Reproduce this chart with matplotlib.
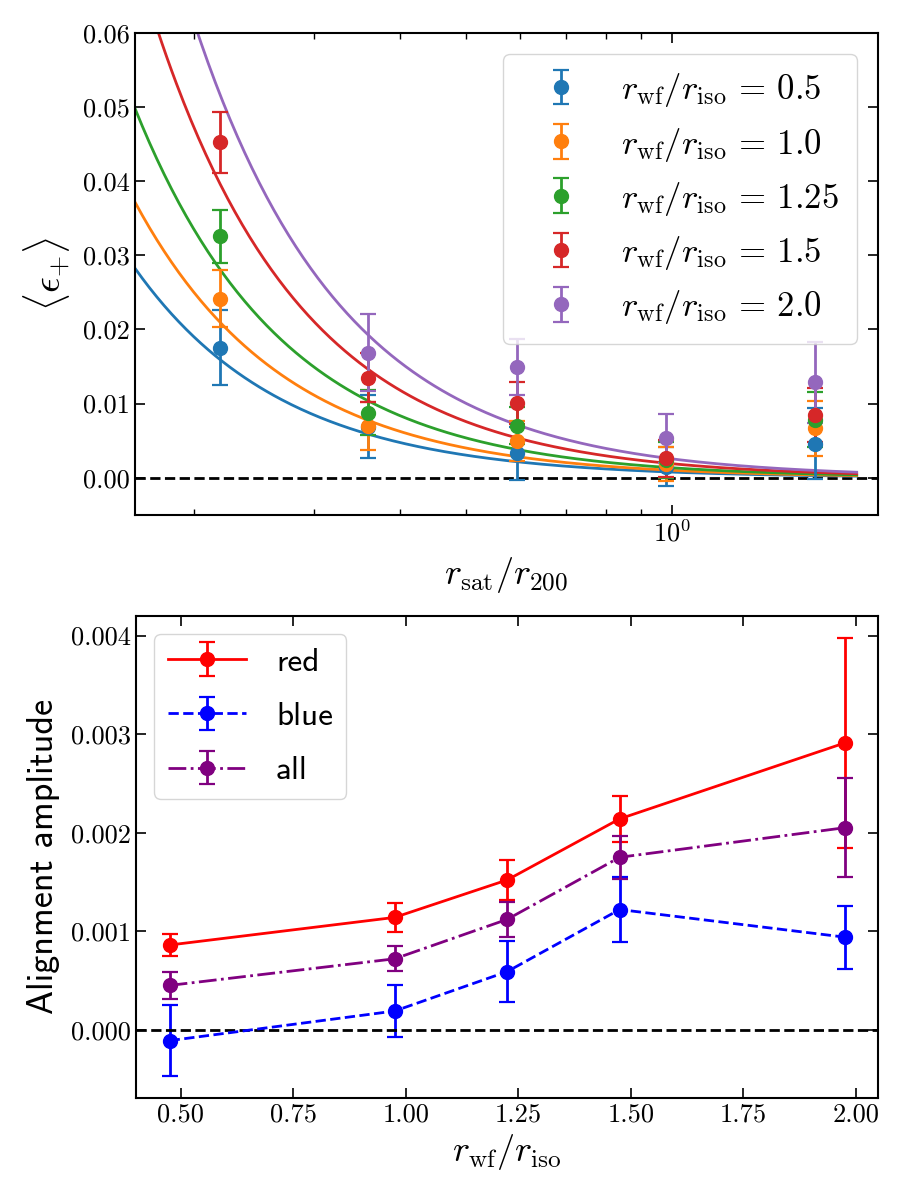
import numpy as np
import matplotlib
matplotlib.use("Agg")
import matplotlib.pyplot as plt
from matplotlib.ticker import NullFormatter

plt.rcParams['font.family'] = 'serif'
plt.rcParams['font.serif'] = ['cmr10', 'DejaVu Serif']
plt.rcParams['mathtext.fontset'] = 'cm'
plt.rcParams['axes.formatter.use_mathtext'] = True
plt.rcParams['axes.unicode_minus'] = False

#-------------------- top panel data --------------------
r_sat = [0.218, 0.359, 0.594, 0.978, 1.615]
ratios = ['0.5', '1.0', '1.25', '1.5', '2.0']
colors = ['C0', 'C1', 'C2', 'C3', 'C4']

eps_05  = [0.01756, 0.0069, 0.0033, 0.0015, 0.0046]
err_05  = [0.0051, 0.0042, 0.0036, 0.0026, 0.0048]
eps_10  = [0.02416, 0.0070, 0.0049, 0.0019, 0.00667]
err_10  = [0.0038, 0.0032, 0.0027, 0.0023, 0.0037]
eps_125 = [0.03255, 0.0088, 0.0070, 0.0024, 0.0078]
err_125 = [0.0036, 0.0030, 0.0025, 0.0024, 0.0037]
eps_15  = [0.04526, 0.01352, 0.0101, 0.0026, 0.00847]
err_15  = [0.0041, 0.0033, 0.0028, 0.0025, 0.0037]
eps_20  = [np.nan, 0.01685, 0.01495, 0.0053, 0.01288]
err_20  = [np.nan, 0.0052, 0.0038, 0.0033, 0.0055]

eps = [eps_05, eps_10, eps_125, eps_15, eps_20]
errs = [err_05, err_10, err_125, err_15, err_20]

# power-law fit parameters  <e+> = A * r^-n
fit_amp = [0.00076, 0.00100, 0.00134, 0.00189, 0.00254]
fit_slope = [2.0, 2.0, 2.0, 2.0, 1.98]

#-------------------- bottom panel data --------------------
r_wf = [0.475, 0.975, 1.225, 1.475, 1.975]
amp_red  = [0.00086, 0.00114, 0.00152, 0.00214, 0.00291]
err_red  = [0.00011, 0.00015, 0.00020, 0.00023, 0.00107]
amp_blue = [-0.00011, 0.00019, 0.00059, 0.00122, 0.00094]
err_blue = [0.00036, 0.00026, 0.00031, 0.00033, 0.00032]
amp_all  = [0.00045, 0.00072, 0.00112, 0.00175, 0.00205]
err_all  = [0.00014, 0.000125, 0.00018, 0.00022, 0.00050]

fig = plt.figure(figsize=(9, 12), dpi=100)
ax1 = fig.add_axes([0.150, 0.571, 0.825, 0.4015])
ax2 = fig.add_axes([0.151, 0.085, 0.825, 0.402])

r_fit = np.logspace(np.log10(0.16), np.log10(1.86), 300)
for i in range(5):
    ax1.errorbar(r_sat, eps[i], yerr=errs[i], fmt='o', color=colors[i],
                 ms=10, capsize=6, elinewidth=2, capthick=1.6, zorder=3,
                 label=r'$r_{\rm wf}/r_{\rm iso} \,=\, %s$' % ratios[i])
    ax1.plot(r_fit, fit_amp[i] * r_fit**(-fit_slope[i]), color=colors[i], lw=2, zorder=2)

ax1.axhline(0, color='k', ls='--', lw=2, zorder=1)
ax1.set_xscale('log')
ax1.set_xlim(0.164, 1.995)
ax1.set_ylim(-0.005, 0.06)
ax1.set_yticks([0, 0.01, 0.02, 0.03, 0.04, 0.05, 0.06])
ax1.yaxis.set_major_formatter(matplotlib.ticker.FormatStrFormatter('%.2f'))
ax1.xaxis.set_minor_formatter(NullFormatter())
ax1.set_xlabel(r'$r_{\rm sat}/r_{200}$', fontsize=26, labelpad=6)
ax1.set_ylabel(r'$\langle \epsilon_{+} \rangle$', fontsize=28, labelpad=8)
ax1.legend(loc='upper right', fontsize=25, borderpad=0.5, labelspacing=0.47,
           handlelength=2.3, handletextpad=0.6, borderaxespad=0.6)

sans = {'family': 'cmss10', 'size': 24}
ax2.errorbar(r_wf, amp_red, yerr=err_red, fmt='o-', color='red', ms=10, lw=2,
             capsize=6, capthick=1.6, label='red')
ax2.errorbar(r_wf, amp_blue, yerr=err_blue, fmt='o--', color='blue', ms=10, lw=2,
             capsize=6, capthick=1.6, label='blue')
ax2.errorbar(r_wf, amp_all, yerr=err_all, fmt='o-.', color='purple', ms=10, lw=2,
             capsize=6, capthick=1.6, label='all')
ax2.axhline(0, color='k', ls='--', lw=2)
ax2.set_yticks([0, 0.001, 0.002, 0.003, 0.004])
ax2.yaxis.set_major_formatter(matplotlib.ticker.FormatStrFormatter('%.3f'))
ax2.set_xticks([0.5, 0.75, 1.0, 1.25, 1.5, 1.75, 2.0])
ax2.xaxis.set_major_formatter(matplotlib.ticker.FormatStrFormatter('%.2f'))
ax2.set_xlabel(r'$r_{\rm wf}/r_{\rm iso}$', fontsize=26, labelpad=4)
ax2.set_ylabel('Alignment amplitude', family='cmss10', fontsize=26, labelpad=8)
ax2.legend(loc='upper left', prop=sans, borderpad=0.4, labelspacing=0.75,
           handlelength=2.35, handletextpad=0.9, borderaxespad=0.55)

for ax in (ax1, ax2):
    ax.tick_params(which='both', direction='in', top=True, right=True, labelsize=19)
    ax.tick_params(which='major', length=7, width=1.2)
    ax.tick_params(which='minor', length=4, width=1.0)
    for s in ax.spines.values():
        s.set_linewidth(1.5)

fig.savefig('out.png', dpi=100)
